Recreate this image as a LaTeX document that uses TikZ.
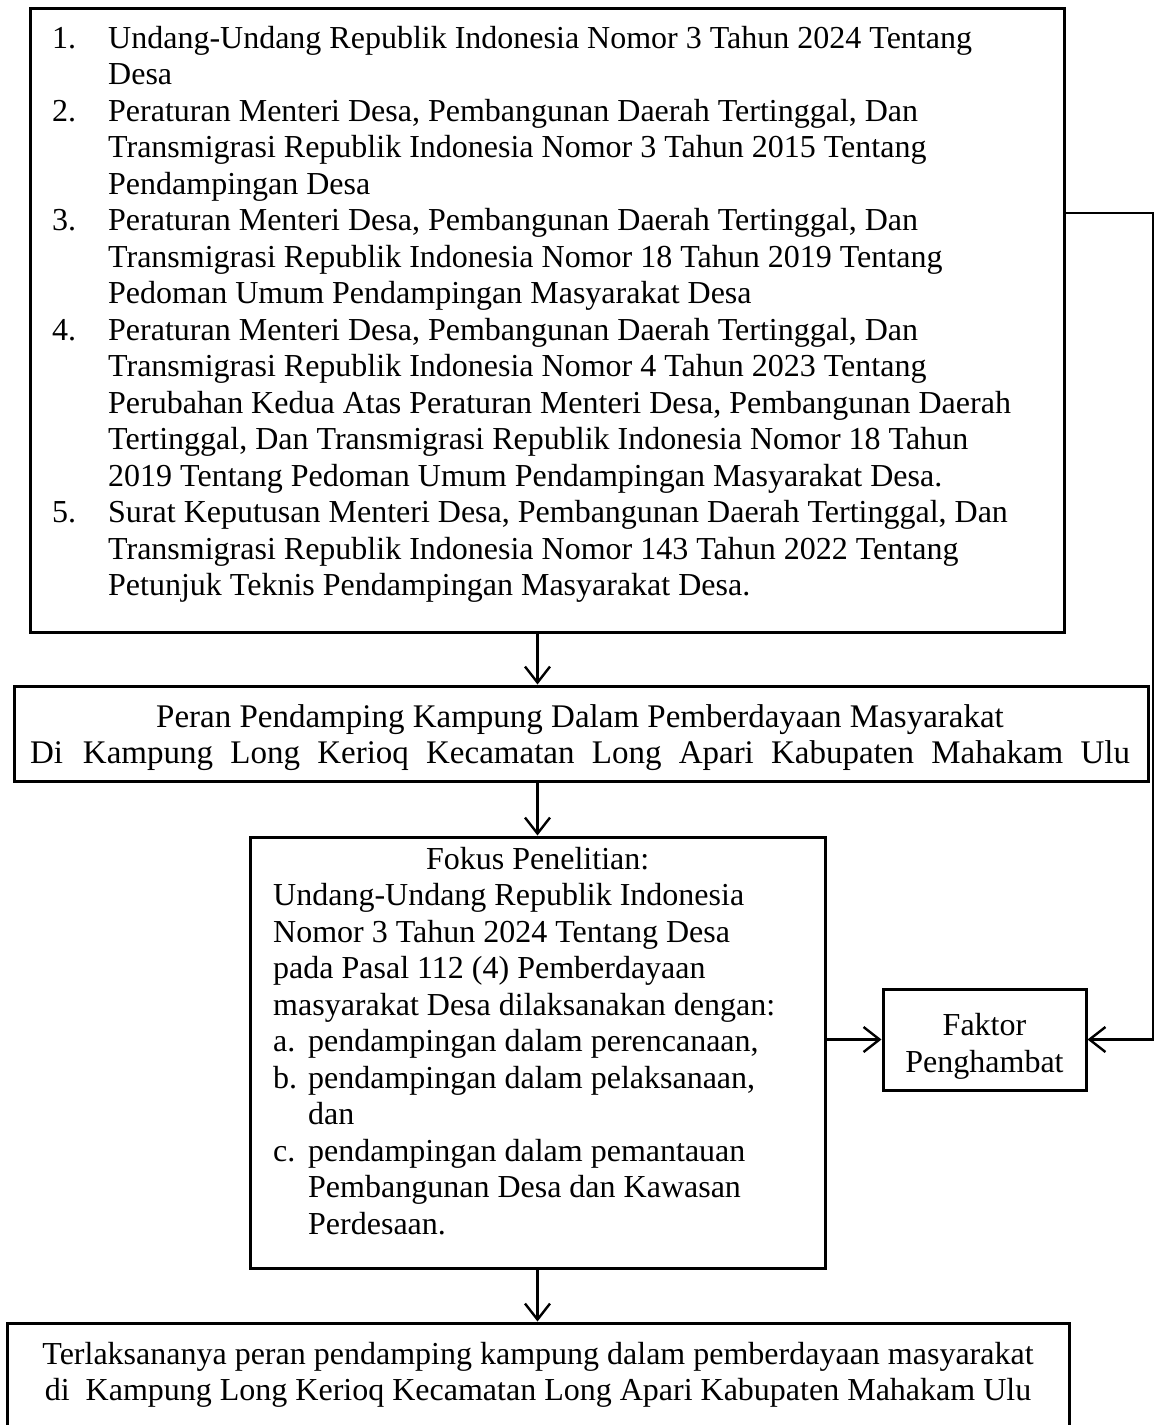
\documentclass[tikz,border=0pt]{standalone}
\usepackage{fontspec}
\setmainfont{Liberation Serif}
\usetikzlibrary{arrows.meta}
\hbadness=10000
\begin{document}
\begin{tikzpicture}[x=1pt,y=-1pt,
 box/.style={draw, line width=3pt, inner sep=0pt},
 txt/.style={inner sep=0pt, font=\fontsize{32}{36.5}\selectfont},
 bigtxt/.style={inner sep=0pt, font=\fontsize{33}{36.5}\selectfont},
 arr/.style={line width=2.4pt, -{Straight Barb[length=16pt,width=25pt]}}]
\clip (0,0) rectangle (1156,1425);
% boxes
\node[box, minimum width=1034pt, minimum height=624pt] (top) at (547,320) {};
\node[box, minimum width=1134pt, minimum height=95pt] (peran) at (581,733.5) {};
\node[box, minimum width=575pt, minimum height=431pt] (fokus) at (537.5,1052.5) {};
\node[box, minimum width=203pt, minimum height=101pt] (faktor) at (984.5,1039.5) {};
\node[box, minimum width=1062pt, minimum height=137pt] (hasil) at (538,1391.5) {};
% texts
\node[txt, anchor=north west] (toptext) at (52,22.45) {\begin{tabular}{@{}p{56pt}@{}l@{}}
1. & Undang-Undang Republik Indonesia Nomor 3 Tahun 2024 Tentang\\
 & Desa\\
2. & Peraturan Menteri Desa, Pembangunan Daerah Tertinggal, Dan\\
 & Transmigrasi Republik Indonesia Nomor 3 Tahun 2015 Tentang\\
 & Pendampingan Desa\\
3. & Peraturan Menteri Desa, Pembangunan Daerah Tertinggal, Dan\\
 & Transmigrasi Republik Indonesia Nomor 18 Tahun 2019 Tentang\\
 & Pedoman Umum Pendampingan Masyarakat Desa\\
4. & Peraturan Menteri Desa, Pembangunan Daerah Tertinggal, Dan\\
 & Transmigrasi Republik Indonesia Nomor 4 Tahun 2023 Tentang\\
 & Perubahan Kedua Atas Peraturan Menteri Desa, Pembangunan Daerah\\
 & Tertinggal, Dan Transmigrasi Republik Indonesia Nomor 18 Tahun\\
 & 2019 Tentang Pedoman Umum Pendampingan Masyarakat Desa.\\
5. & Surat Keputusan Menteri Desa, Pembangunan Daerah Tertinggal, Dan\\
 & Transmigrasi Republik Indonesia Nomor 143 Tahun 2022 Tentang\\
 & Petunjuk Teknis Pendampingan Masyarakat Desa.
\end{tabular}};
\node[bigtxt, anchor=north] (perantext) at (580,701.45) {\begin{tabular}{@{}c@{}}
Peran Pendamping Kampung Dalam Pemberdayaan Masyarakat\\
\makebox[1100pt][s]{Di\hspace{20pt}Kampung Long Kerioq Kecamatan Long Apari Kabupaten Mahakam Ulu}
\end{tabular}};
\node[txt, anchor=north west] (fokustext) at (273,843.45) {\begin{tabular}{@{}p{35pt}@{}l@{}}
\multicolumn{2}{@{}l@{}}{\makebox[529pt]{Fokus Penelitian:}}\\
\multicolumn{2}{@{}l@{}}{Undang-Undang Republik Indonesia}\\
\multicolumn{2}{@{}l@{}}{Nomor 3 Tahun 2024 Tentang Desa}\\
\multicolumn{2}{@{}l@{}}{pada Pasal 112 (4) Pemberdayaan}\\
\multicolumn{2}{@{}l@{}}{masyarakat Desa dilaksanakan dengan:}\\
a. & pendampingan dalam perencanaan,\\
b. & pendampingan dalam pelaksanaan,\\
 & dan\\
c. & pendampingan dalam pemantauan\\
 & Pembangunan Desa dan Kawasan\\
 & Perdesaan.
\end{tabular}};
\node[txt, anchor=north] (faktortext) at (984.5,1010) {\begin{tabular}{@{}c@{}}
Faktor\\
Penghambat
\end{tabular}};
\node[txt, anchor=north] (hasiltext) at (538,1338.45) {\begin{tabular}{@{}c@{}}
Terlaksananya peran pendamping kampung dalam pemberdayaan masyarakat\\
di\ \ Kampung Long Kerioq Kecamatan Long Apari Kabupaten Mahakam Ulu
\end{tabular}};
% connectors
\coordinate (rt) at (1153,213);
\draw[arr] (top.south -| fokus.north) -- (peran.north -| fokus.north);
\draw[arr] (peran.south -| fokus.north) -- (fokus.north);
\draw[arr] (fokus.south) -- (fokus.south |- hasil.north);
\draw[arr] (fokus.east |- faktor.west) -- (faktor.west);
\draw[arr] (top.east |- rt) -- (rt) |- (faktor.east);
\end{tikzpicture}
\end{document}
